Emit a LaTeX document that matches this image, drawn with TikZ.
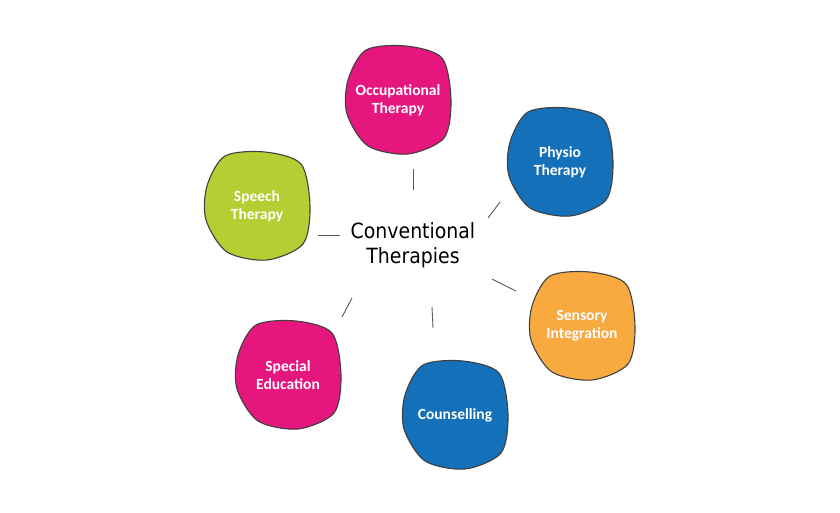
\documentclass[tikz,border=0pt]{standalone}
\usepackage{fontspec}
\setmainfont{Carlito}
\newfontfamily\handfont{DejaVu Sans Condensed}
\tikzset{
  blobline/.style={draw=black!75, line width=1.1pt},
  blobtext/.style={text=white, font=\bfseries\fontsize{15.5}{18}\selectfont, align=center},
  stroke/.style={draw=black!65, line width=0.9pt},
}
\definecolor{pinkish}{HTML}{E6167F}
\definecolor{bluish}{HTML}{1470B8}
\definecolor{greenish}{HTML}{B3CF34}
\definecolor{orangish}{HTML}{F8A940}
%% #1 name, #2 x, #3 y, #4 colour, #5 text
\newcommand\therblob[5]{
  \draw[blobline, fill=#4] plot[smooth cycle, shift={(#2,#3)}] coordinates
    {(-50,-20) (-32,-50) (8,-54) (44,-42) (53,0) (46,38) (10,54) (-30,46) (-51,14)};
  \node[blobtext] (#1) at (#2,#3) {#5};
}
\begin{document}
\begin{tikzpicture}[x=1pt,y=-1pt]
  \useasboundingbox[fill=white] (0,0) rectangle (840,512);
  %% the six therapies
  \therblob{occ}{398}{100}{pinkish}{Occupational\\Therapy}
  \therblob{phys}{560}{162}{bluish}{Physio\\Therapy}
  \therblob{speech}{257}{206}{greenish}{Speech\\Therapy}
  \therblob{sens}{582}{326}{orangish}{Sensory\\Integration}
  \therblob{spec}{288}{375}{pinkish}{Special\\Education}
  \therblob{couns}{455}{415}{bluish}{Counselling}
  %% centre
  \node[font=\handfont\fontsize{21}{25}\selectfont, align=center] (conv) at (413,245)
    {Conventional\\Therapies};
  %% short strokes
  \coordinate (c1a) at (413,190); \coordinate (c1b) at (413,169);
  \coordinate (c2a) at (488,218); \coordinate (c2b) at (500,202);
  \coordinate (c3a) at (340,235); \coordinate (c3b) at (318,235);
  \coordinate (c4a) at (492,279); \coordinate (c4b) at (516,291);
  \coordinate (c5a) at (352,298); \coordinate (c5b) at (342,317);
  \coordinate (c6a) at (432,307); \coordinate (c6b) at (433,328);
  \foreach \i in {1,...,6}
    \draw[stroke] (c\i a) -- (c\i b);
\end{tikzpicture}
\end{document}
